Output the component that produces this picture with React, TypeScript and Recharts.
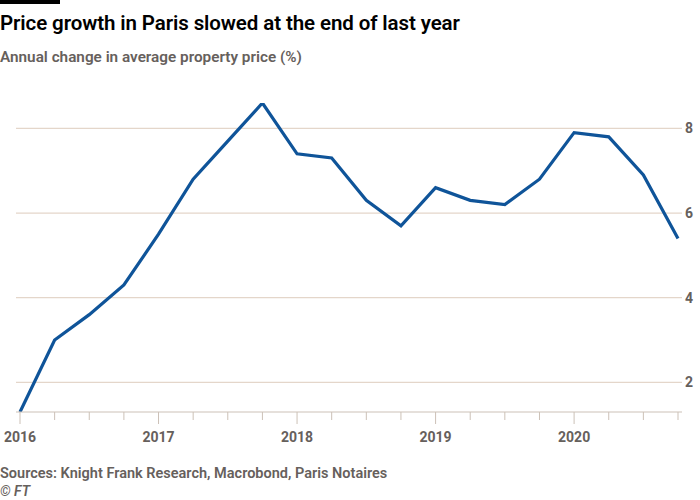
import React from 'react';
import { LineChart, Line, XAxis, YAxis, CartesianGrid } from 'recharts';

const quarters = [
  '2016 Q1', '2016 Q2', '2016 Q3', '2016 Q4',
  '2017 Q1', '2017 Q2', '2017 Q3', '2017 Q4',
  '2018 Q1', '2018 Q2', '2018 Q3', '2018 Q4',
  '2019 Q1', '2019 Q2', '2019 Q3', '2019 Q4',
  '2020 Q1', '2020 Q2', '2020 Q3', '2020 Q4',
];
const priceChange = [
  1.3, 3.0, 3.6, 4.3,
  5.5, 6.8, 7.7, 8.6,
  7.4, 7.3, 6.3, 5.7,
  6.6, 6.3, 6.2, 6.8,
  7.9, 7.8, 6.9, 5.4,
];
const yTicks = [2, 4, 6, 8];
const xTicks = quarters.map((_, i) => i);

const data = quarters.map((q, i) => ({ i, label: q, value: priceChange[i] }));

const TEXT = '#66605c';
const FONT = 'Roboto, "Noto Sans", sans-serif';

const XTick = (props: any) => {
  const { x, y, payload } = props;
  const label = quarters[payload.value];
  const isYear = label.endsWith('Q1');
  return (
    <g>
      <line x1={x} x2={x} y1={y} y2={y + (isYear ? 12 : 8)} stroke="#ccc1b7" strokeWidth={1} />
      {isYear && (
        <text x={x} y={y + 30} textAnchor="middle" fill={TEXT} fontSize={14} fontWeight={700} fontFamily={FONT}>
          {label.slice(0, 4)}
        </text>
      )}
    </g>
  );
};

export default function App() {
  return (
    <div style={{ position: 'absolute', left: 0, top: 0, width: 700, height: 500, background: '#fff', overflow: 'hidden' }}>
      <div style={{ position: 'absolute', left: 0, top: 0, width: 60, height: 4, background: '#000' }} />
      <div style={{ position: 'absolute', left: 0, top: 11, fontFamily: FONT, fontSize: 20.5, fontWeight: 600, color: '#000', whiteSpace: 'nowrap', letterSpacing: -0.1 }}>
        Price growth in Paris slowed at the end of last year
      </div>
      <div style={{ position: 'absolute', left: 0, top: 48, fontFamily: FONT, fontSize: 15.3, fontWeight: 600, color: TEXT, whiteSpace: 'nowrap' }}>
        Annual change in average property price (%)
      </div>
      <div style={{ position: 'absolute', left: 0, top: 0 }}>
        <LineChart width={700} height={500} data={data} margin={{ top: 103, right: 0, bottom: 58, left: 16 }}>
          <CartesianGrid vertical={false} horizontalValues={yTicks} stroke="#e4d6ca" strokeWidth={1.2} />
          <XAxis
            dataKey="i"
            type="number"
            domain={[0, 19]}
            ticks={xTicks}
            interval={0}
            padding={{ left: 4, right: 4 }}
            height={30}
            tickSize={0}
            tickMargin={0}
            tickLine={false}
            axisLine={{ stroke: '#ccc1b7', strokeWidth: 1 }}
            tick={<XTick />}
          />
          <YAxis
            orientation="right"
            domain={[1.3, 8.6]}
            ticks={yTicks}
            width={18}
            axisLine={false}
            tickLine={false}
            tickSize={0}
            tickMargin={3}
            allowDataOverflow
            tick={{ fill: TEXT, fontSize: 14, fontWeight: 700, fontFamily: FONT, textAnchor: 'start' }}
          />
          <Line
            type="linear"
            dataKey="value"
            stroke="#0f5499"
            strokeWidth={3.2}
            dot={false}
            isAnimationActive={false}
          />
        </LineChart>
      </div>
      <div style={{ position: 'absolute', left: 0, top: 465, fontFamily: FONT, fontSize: 14.5, fontWeight: 600, color: TEXT, whiteSpace: 'nowrap' }}>
        Sources: Knight Frank Research, Macrobond, Paris Notaires
      </div>
      <div style={{ position: 'absolute', left: 0, top: 483, fontFamily: FONT, fontSize: 14, fontStyle: 'italic', fontWeight: 600, color: TEXT, whiteSpace: 'nowrap' }}>
        © FT
      </div>
    </div>
  );
}
